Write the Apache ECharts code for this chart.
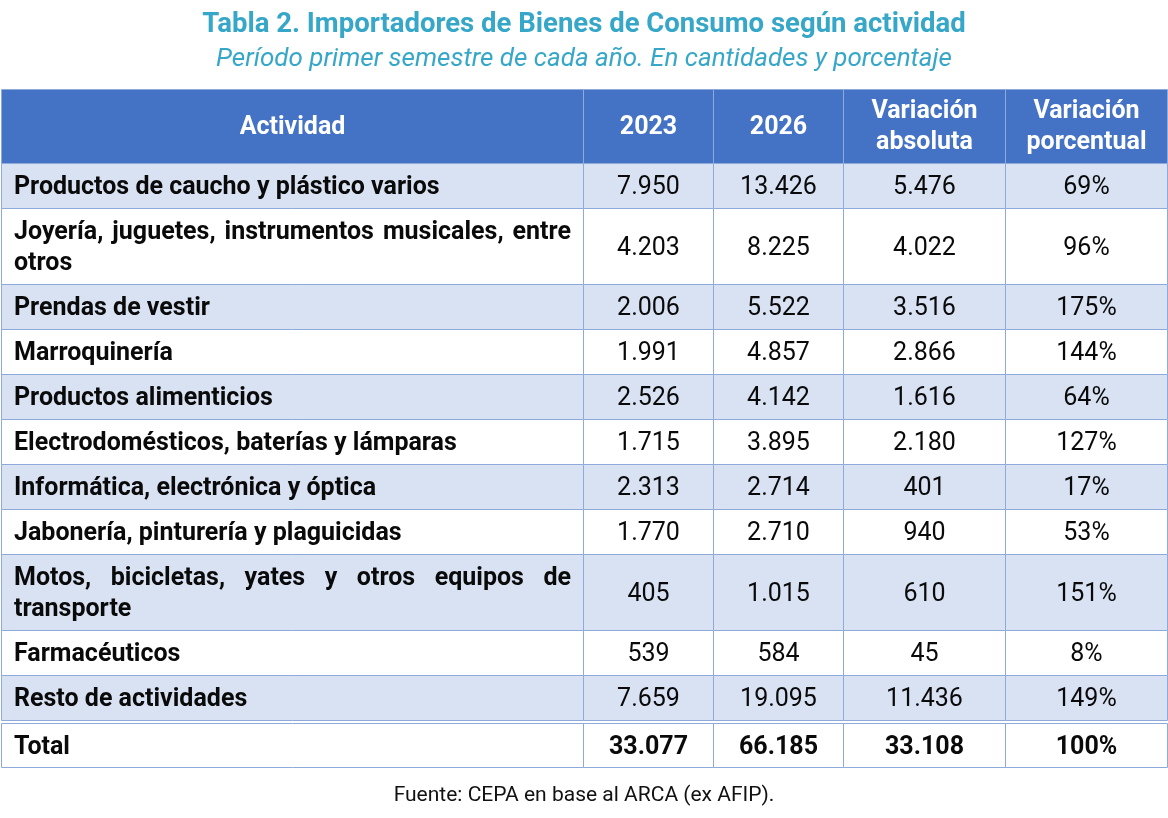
<!DOCTYPE html>
<html><head><meta charset="utf-8">
<script src="https://cdn.jsdelivr.net/npm/echarts@6/dist/echarts.min.js"></script>
<style>html,body{margin:0;padding:0;background:#fff}#c{width:1168px;height:818px}</style>
</head><body><div id="c"></div>
<script>
// ---- data ----
const titleText = 'Tabla 2. Importadores de Bienes de Consumo según actividad';
const subtitleText = 'Período primer semestre de cada año. En cantidades y porcentaje';
const sourceText = 'Fuente: CEPA en base al ARCA (ex AFIP).';
const headers = ['Actividad', '2023', '2026', 'Variación\nabsoluta', 'Variación\nporcentual'];
const activities = [
  'Productos de caucho y plástico varios',
  'Joyería, juguetes, instrumentos musicales, entre otros',
  'Prendas de vestir',
  'Marroquinería',
  'Productos alimenticios',
  'Electrodomésticos, baterías y lámparas',
  'Informática, electrónica y óptica',
  'Jabonería, pinturería y plaguicidas',
  'Motos, bicicletas, yates y otros equipos de transporte',
  'Farmacéuticos',
  'Resto de actividades'
];
const values2023 = [7950, 4203, 2006, 1991, 2526, 1715, 2313, 1770, 405, 539, 7659];
const values2026 = [13426, 8225, 5522, 4857, 4142, 3895, 2714, 2710, 1015, 584, 19095];
const variacionAbsoluta = [5476, 4022, 3516, 2866, 1616, 2180, 401, 940, 610, 45, 11436];
const variacionPorcentual = [69, 96, 175, 144, 64, 127, 17, 53, 151, 8, 149];
const totalLabel = 'Total';
const totalValues = [33077, 66185, 33108, 100];

// ---- layout / style ----
const FONT = 'Roboto';
const FS = 25, SX = 1;
const colWidths = [582, 130, 130, 162, 162];
const headerH = 74, oneLineH = 45, twoLineH = 76, totalH = 44, gapTotal = 3;
const padX = 12, firstColTextW = colWidths[0] - 2 * padX - 1;
const lineH = 31, dy = 2.5;
const HEADER_BG = '#4472C4', BAND_BG = '#D9E2F3', BORDER = '#8EAADB', TXT = '#0a0a0a', TITLE = '#36A7C8';

const fmt = n => String(n).replace(/\B(?=(\d{3})+(?!\d))/g, '.');
const ctx = document.createElement('canvas').getContext('2d');
function measure(t, bold) { ctx.font = (bold ? 'bold ' : '') + FS + 'px ' + FONT; return ctx.measureText(t).width * SX; }
function wrap(t) {
  const words = t.split(' '); const lines = []; let cur = '';
  words.forEach(w => {
    const test = cur ? cur + ' ' + w : w;
    if (measure(test, true) > firstColTextW && cur) { lines.push(cur); cur = w; } else cur = test;
  });
  lines.push(cur); return lines;
}
const wrapped = activities.map(wrap);

// rows: 0 header, 1..n body, n+1 total
const nBody = activities.length;
const rowTops = [], rowHs = [];
let acc = 0;
rowTops.push(acc); rowHs.push(headerH); acc += headerH;
wrapped.forEach(l => { rowTops.push(acc); const h = l.length > 1 ? twoLineH : oneLineH; rowHs.push(h); acc += h; });
acc += gapTotal;
rowTops.push(acc); rowHs.push(totalH); acc += totalH;
const totalHeight = acc;
const colLefts = []; { let s = 0; colWidths.forEach(w => { colLefts.push(s); s += w; }); }
const totalWidth = colWidths.reduce((a, b) => a + b, 0);

function cellInfo(r, c) {
  if (r === 0) return { text: headers[c], bold: true, color: '#fff', bg: HEADER_BG };
  if (r <= nBody) {
    const i = r - 1;
    const vals = [null, fmt(values2023[i]), fmt(values2026[i]), fmt(variacionAbsoluta[i]), variacionPorcentual[i] + '%'];
    return { text: c === 0 ? null : vals[c], lines: c === 0 ? wrapped[i] : null, bold: c === 0, color: TXT, bg: (i % 2 === 0) ? BAND_BG : '#fff' };
  }
  const vals = [totalLabel, fmt(totalValues[0]), fmt(totalValues[1]), fmt(totalValues[2]), totalValues[3] + '%'];
  return { text: vals[c], bold: true, color: TXT, bg: '#fff', lines: c === 0 ? [totalLabel] : null };
}

function txt(x, y, s, bold, color, align) {
  return { type: 'text', x: x, y: y, scaleX: SX, style: { text: s, fill: color, font: (bold ? 'bold ' : '') + FS + 'px ' + FONT, textAlign: align, textVerticalAlign: 'middle', lineHeight: lineH } };
}

function renderItem(params, api) {
  const r = api.value(0), c = api.value(1);
  const p0 = api.coord([colLefts[c], rowTops[r]]);
  const p1 = api.coord([colLefts[c] + colWidths[c], rowTops[r] + rowHs[r]]);
  const x = p0[0], y = p0[1], w = p1[0] - p0[0], h = p1[1] - p0[1];
  const info = cellInfo(r, c);
  const children = [{ type: 'rect', shape: { x: x + 0.5, y: y + 0.5, width: w, height: h }, style: { fill: info.bg, stroke: BORDER, lineWidth: 1 } }];
  const cy = y + h / 2 + (r === 0 ? dy - 1 : dy);
  if (info.lines) {
    const n = info.lines.length;
    info.lines.forEach((ln, k) => {
      const ly = cy + (k - (n - 1) / 2) * lineH;
      const left = x + padX + 1;
      if (k < n - 1) {
        const words = ln.split(' ');
        const ws = words.map(wd => measure(wd, true));
        const gap = (firstColTextW - ws.reduce((a, b) => a + b, 0)) / (words.length - 1);
        let xx = left;
        words.forEach((wd, j) => { children.push(txt(xx, ly, wd, true, info.color, 'left')); xx += ws[j] + gap; });
      } else {
        children.push(txt(left, ly, ln, true, info.color, 'left'));
      }
    });
  } else {
    children.push(txt(x + w / 2 + 0.5, cy, info.text, info.bold, info.color, 'center'));
  }
  return { type: 'group', children: children };
}

const cells = [];
for (let r = 0; r < rowTops.length; r++) for (let c = 0; c < colWidths.length; c++) cells.push([r, c]);

const chart = echarts.init(document.getElementById('c'), null, { renderer: 'canvas' });
const gridTop = 89, gridLeft = 1;
chart.setOption({
  animation: false,
  grid: { left: gridLeft, top: gridTop, width: totalWidth, height: totalHeight },
  xAxis: { type: 'value', min: 0, max: totalWidth, show: false },
  yAxis: { type: 'value', min: 0, max: totalHeight, inverse: true, show: false },
  series: [{ type: 'custom', coordinateSystem: 'cartesian2d', renderItem: renderItem, data: cells, clip: false, silent: true }],
  graphic: [
    { type: 'text', x: 584, y: 25, style: { text: titleText, fill: TITLE, font: 'bold 27.5px ' + FONT, textAlign: 'center', textVerticalAlign: 'middle' } },
    { type: 'text', x: 584, y: 59, style: { text: subtitleText, fill: TITLE, font: 'italic 26px ' + FONT, textAlign: 'center', textVerticalAlign: 'middle' } },
    { type: 'text', x: 584, y: 796, style: { text: sourceText, fill: '#111', font: '21px ' + FONT, textAlign: 'center', textVerticalAlign: 'middle' } }
  ]
});
</script></body></html>
